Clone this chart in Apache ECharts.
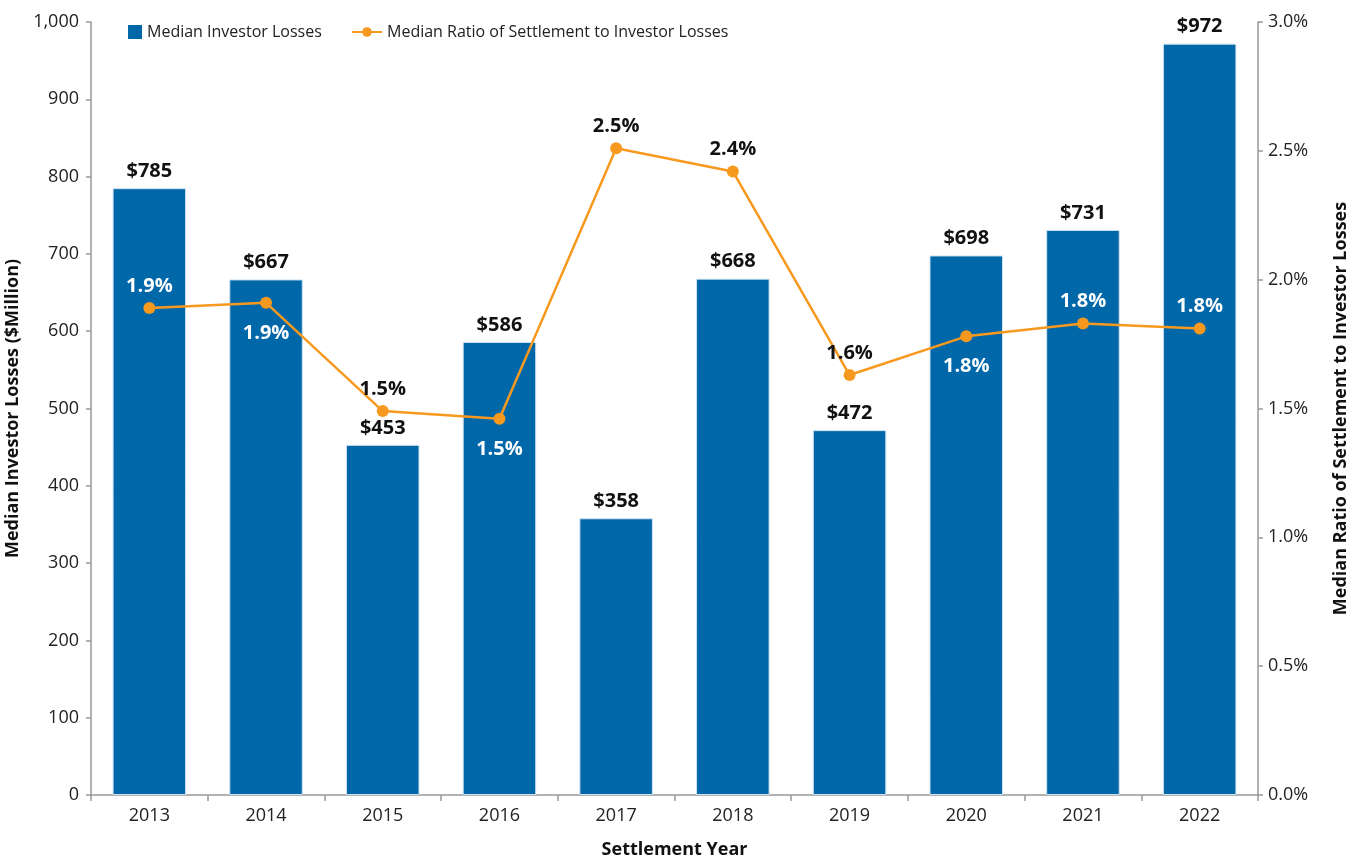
<!DOCTYPE html>
<html><head><meta charset="utf-8">
<script src="https://cdn.jsdelivr.net/npm/echarts@6/dist/echarts.min.js"></script>
<style>html,body{margin:0;padding:0;background:#fff}#c{width:1359px;height:861px}</style>
</head><body><div id="c"></div>
<script>
const years = ['2013','2014','2015','2016','2017','2018','2019','2020','2021','2022'];
const losses = [785, 667, 453, 586, 358, 668, 472, 698, 731, 972];
const ratios = [1.89, 1.91, 1.49, 1.46, 2.51, 2.42, 1.63, 1.78, 1.83, 1.81];
const ratioLabelPos = ['top','bottom','top','bottom','top','top','top','bottom','top','top'];
const ratioLabelWhite = [true,true,false,true,false,false,false,true,true,true];

const FONT = 'Open Sans';
const chart = echarts.init(document.getElementById('c'));
chart.setOption({
  animation: false,
  textStyle: {fontFamily: FONT},
  grid: {left: 91, right: 101, top: 22, bottom: 66, containLabel: false, outerBoundsMode: 'none'},
  legend: [
    {
      left: 123, top: 19, itemWidth: 14, itemHeight: 14, itemGap: 8,
      itemStyle: {borderWidth: 0},
      textStyle: {fontFamily: FONT, fontSize: 16, color: '#222'},
      data: [{name: 'Median Investor Losses', icon: 'rect'}]
    },
    {
      left: 346, top: 19, itemWidth: 30, itemHeight: 12,
      textStyle: {fontFamily: FONT, fontSize: 16, color: '#222'},
      data: [{name: 'Median Ratio of Settlement to Investor Losses'}]
    }
  ],
  xAxis: {
    type: 'category', data: years,
    name: 'Settlement Year', nameLocation: 'middle', nameGap: 46,
    nameTextStyle: {fontFamily: FONT, fontSize: 18, fontWeight: 'bold', color: '#111'},
    axisLine: {lineStyle: {color: '#999', width: 1.5}},
    axisTick: {show: true, length: 6, lineStyle: {color: '#999', width: 1.5}},
    axisLabel: {fontFamily: FONT, fontSize: 18, color: '#222', margin: 12}
  },
  yAxis: [
    {
      type: 'value', min: 0, max: 1000, interval: 100,
      name: 'Median Investor Losses ($Million)', nameLocation: 'middle', nameGap: 61,
      nameTextStyle: {fontFamily: FONT, fontSize: 18, fontWeight: 'bold', color: '#111'},
      axisLine: {show: true, lineStyle: {color: '#999', width: 1.5}},
      axisTick: {show: true, length: 5, lineStyle: {color: '#999', width: 1.5}},
      splitLine: {show: false},
      axisLabel: {fontFamily: FONT, fontSize: 18, color: '#222', margin: 12,
        formatter: v => v.toLocaleString('en-US')}
    },
    {
      type: 'value', min: 0, max: 3, interval: 0.5, position: 'right',
      name: 'Median Ratio of Settlement to Investor Losses', nameLocation: 'middle', nameGap: 74,
      nameRotate: 90,
      nameTextStyle: {fontFamily: FONT, fontSize: 18, fontWeight: 'bold', color: '#111'},
      axisLine: {show: true, lineStyle: {color: '#999', width: 1.5}},
      axisTick: {show: true, length: 5, lineStyle: {color: '#999', width: 1.5}},
      splitLine: {show: false},
      axisLabel: {fontFamily: FONT, fontSize: 18, color: '#222', margin: 10,
        formatter: v => v.toFixed(1) + '%'}
    }
  ],
  series: [
    {
      name: 'Median Investor Losses', type: 'bar', yAxisIndex: 0,
      data: losses, barWidth: '63%',
      itemStyle: {color: '#0067A9', borderColor: '#cfe3f2', borderWidth: 1},
      label: {show: true, position: 'top', distance: 7, fontFamily: FONT, fontSize: 20,
        fontWeight: 'bold', color: '#111', formatter: p => '$' + p.value}
    },
    {
      name: 'Median Ratio of Settlement to Investor Losses', type: 'line', yAxisIndex: 1,
      symbol: 'circle', symbolSize: 12,
      lineStyle: {color: '#F7991F', width: 2.5},
      itemStyle: {color: '#F7991F'},
      data: ratios.map((v, i) => ({
        value: v,
        label: {
          show: true, position: ratioLabelPos[i], distance: ratioLabelPos[i] === 'top' ? 6 : 14,
          color: ratioLabelWhite[i] ? '#ffffff' : '#111',
          fontFamily: FONT, fontSize: 20, fontWeight: 'bold',
          formatter: p => p.value.toFixed(1) + '%'
        }
      }))
    }
  ]
});
</script></body></html>
